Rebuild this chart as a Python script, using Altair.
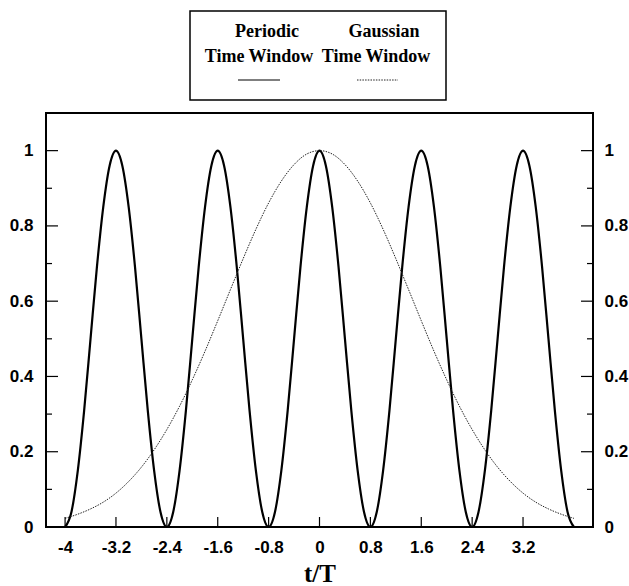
import altair as alt
import pandas as pd

# ---- data ----
t_periodic = [round(-4 + 0.1 * i, 1) for i in range(81)]
periodic = [
    0.00, 0.04, 0.15, 0.31, 0.50, 0.69, 0.85, 0.96, 1.00, 0.96, 0.85, 0.69, 0.50, 0.31, 0.15, 0.04,
    0.00, 0.04, 0.15, 0.31, 0.50, 0.69, 0.85, 0.96, 1.00, 0.96, 0.85, 0.69, 0.50, 0.31, 0.15, 0.04,
    0.00, 0.04, 0.15, 0.31, 0.50, 0.69, 0.85, 0.96, 1.00, 0.96, 0.85, 0.69, 0.50, 0.31, 0.15, 0.04,
    0.00, 0.04, 0.15, 0.31, 0.50, 0.69, 0.85, 0.96, 1.00, 0.96, 0.85, 0.69, 0.50, 0.31, 0.15, 0.04,
    0.00, 0.04, 0.15, 0.31, 0.50, 0.69, 0.85, 0.96, 1.00, 0.96, 0.85, 0.69, 0.50, 0.31, 0.15, 0.04,
    0.00,
]
t_gauss = [-4.0, -3.8, -3.6, -3.4, -3.2, -3.0, -2.8, -2.6, -2.4, -2.2, -2.0, -1.8, -1.6, -1.4,
           -1.2, -1.0, -0.8, -0.6, -0.4, -0.2, 0.0, 0.2, 0.4, 0.6, 0.8, 1.0, 1.2, 1.4, 1.6, 1.8,
           2.0, 2.2, 2.4, 2.6, 2.8, 3.0, 3.2, 3.4, 3.6, 3.8, 4.0]
gauss = [0.023, 0.034, 0.048, 0.066, 0.090, 0.121, 0.159, 0.205, 0.259, 0.321, 0.391, 0.467,
         0.548, 0.631, 0.713, 0.791, 0.861, 0.919, 0.963, 0.991, 1.000, 0.991, 0.963, 0.919,
         0.861, 0.791, 0.713, 0.631, 0.548, 0.467, 0.391, 0.321, 0.259, 0.205, 0.159, 0.121,
         0.090, 0.066, 0.048, 0.034, 0.023]
x_tick_values = [-4, -3.2, -2.4, -1.6, -0.8, 0, 0.8, 1.6, 2.4, 3.2]
x_tick_labels = ["-4", "-3.2", "-2.4", "-1.6", "-0.8", "0", "0.8", "1.6", "2.4", "3.2"]
y_major = [0, 0.2, 0.4, 0.6, 0.8, 1]
y_minor = [0.1, 0.3, 0.5, 0.7, 0.9]
legend_names = ["Periodic", "Gaussian"]
legend_sub = "Time Window"
x_title = "t/T"

W, H = 547, 414
xs = alt.Scale(domain=[-4.3, 4.3], nice=False, zero=False)
ys = alt.Scale(domain=[0, 1.1], nice=False, zero=False)

df_p = pd.DataFrame({"t": t_periodic, "v": periodic})
df_g = pd.DataFrame({"t": t_gauss, "v": gauss})

vals_js = "[" + ",".join(str(v) for v in x_tick_values) + "]"
labs_js = "[" + ",".join("'" + s + "'" for s in x_tick_labels) + "]"
label_expr = f"{labs_js}[indexof({vals_js}, datum.value)]"

x_axis = alt.Axis(values=x_tick_values, labelExpr=label_expr, title=x_title,
                  labelPadding=12, titlePadding=6, titleFont="Liberation Serif",
                  titleFontSize=25, titleFontWeight="bold", titleColor="black")
left_axis = alt.Axis(values=y_major, orient="left", title=None, labelPadding=13, format="~g")
right_axis = alt.Axis(values=y_major, orient="right", title=None, labelPadding=11, format="~g")

periodic_line = alt.Chart(df_p).mark_line(
    color="black", strokeWidth=2.2, interpolate="monotone"
).encode(
    x=alt.X("t:Q", scale=xs, axis=x_axis, title=x_title),
    y=alt.Y("v:Q", scale=ys, axis=left_axis),
)

gauss_line = alt.Chart(df_g).mark_line(
    color="#222222", strokeWidth=1, strokeDash=[1.5, 1.2], interpolate="monotone"
).encode(
    x=alt.X("t:Q", scale=xs, axis=x_axis, title=x_title),
    y=alt.Y("v:Q", scale=ys, axis=right_axis),
)

df_ymaj = pd.DataFrame({"v": y_major})
df_ymin = pd.DataFrame({"v": y_minor})
df_xmaj = pd.DataFrame({"t": x_tick_values})

def yticks(df, x0, x1):
    return alt.Chart(df).mark_rule(color="black", strokeWidth=1.2).encode(
        y=alt.Y("v:Q", scale=ys, axis=None), x=alt.value(x0), x2=alt.value(x1))

ticks = [
    yticks(df_ymaj, 0, 12), yticks(df_ymin, 0, 6),
    yticks(df_ymaj, W - 12, W), yticks(df_ymin, W - 6, W),
    alt.Chart(df_xmaj).mark_rule(color="black", strokeWidth=1.2).encode(
        x=alt.X("t:Q", scale=xs, axis=x_axis, title=x_title),
        y=alt.value(H - 10), y2=alt.value(H)),
]

one = pd.DataFrame({"a": [0]})
box = alt.Chart(one).mark_rect(fill="white", stroke="black", strokeWidth=1.5).encode(
    x=alt.value(144), x2=alt.value(400), y=alt.value(-102), y2=alt.value(-13))

def legend_text(txt, x, y):
    return alt.Chart(one).mark_text(
        text=txt, font="Liberation Serif", fontSize=18, fontWeight="bold",
        align="center", baseline="alphabetic", color="black"
    ).encode(x=alt.value(x), y=alt.value(y))

legend = [
    box,
    legend_text(legend_names[0], 221, -76),
    legend_text(legend_sub, 213, -51),
    legend_text(legend_names[1], 338, -76),
    legend_text(legend_sub, 330, -51),
    alt.Chart(one).mark_rule(color="black", strokeWidth=1.2).encode(
        x=alt.value(192), x2=alt.value(234), y=alt.value(-33)),
    alt.Chart(one).mark_rule(color="#222222", strokeWidth=1, strokeDash=[1.5, 1.2]).encode(
        x=alt.value(311), x2=alt.value(352), y=alt.value(-33)),
]

chart = alt.layer(
    periodic_line, gauss_line, *ticks, *legend
).resolve_axis(y="independent", x="shared").properties(
    width=W, height=H,
    autosize=alt.AutoSizeParams(type="none"),
    padding={"left": 46, "top": 113, "right": 36, "bottom": 59},
).configure_view(
    stroke="black", strokeWidth=2
).configure_axis(
    labelFont="Liberation Sans", labelFontWeight="bold", labelFontSize=17,
    labelColor="black", domain=False, ticks=False, grid=False,
)

chart.save("out.html", embed_options={"renderer": "svg", "actions": False})
